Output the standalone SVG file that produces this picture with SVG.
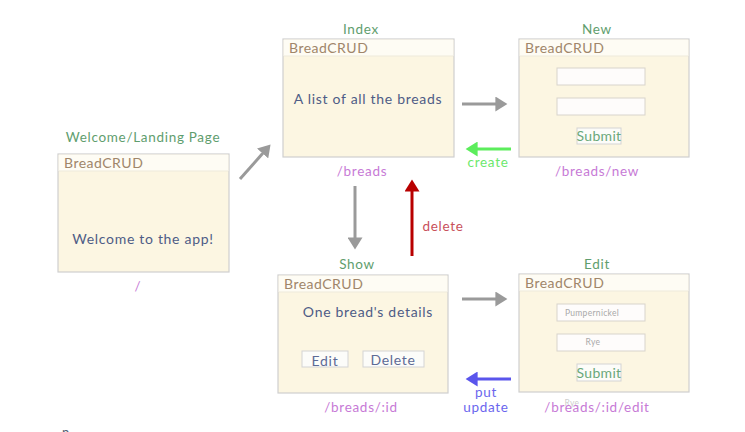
<svg xmlns="http://www.w3.org/2000/svg" width="745" height="432" viewBox="0 0 745 432">
<style>
text{font-family:Lato,"Noto Sans","DejaVu Sans",sans-serif;letter-spacing:0.7px}
.win{fill:#fcf6e2;stroke:#cfcfcf;stroke-width:1.2}
.hdr{fill:#fefcf4}
.sep{stroke:#eeeadb;stroke-width:1}
.brand{fill:#a0866a;font-size:14px;letter-spacing:0.5px}
.title{fill:#5f9e6e;font-size:13.5px;text-anchor:middle}
.body{fill:#4e5c86;font-size:14px;text-anchor:middle}
.route{fill:#c77ad6;font-size:13.5px;text-anchor:middle}
.input{fill:#fefcfb;stroke:#d8d4cc;stroke-width:1}
.btn{fill:#fcfcf9;stroke:#d4d4d4;stroke-width:1}
.sub{fill:#6aa879;font-size:14px;text-anchor:middle;letter-spacing:0.3px}
.ph{fill:#a9a9a9;font-size:8.5px;text-anchor:middle;letter-spacing:0.3px}
.bt{fill:#5d6a96;font-size:14px;text-anchor:middle}
.ln{stroke-width:3;fill:none}
</style>
<defs>
<marker id="hg" markerWidth="5" markerHeight="5" refX="0.2" refY="2.5" orient="auto" markerUnits="strokeWidth" viewBox="0 0 5 5"><path d="M0,0 L4,2.5 L0,5z" fill="#9a9a9a"/></marker>
<marker id="hgr" markerWidth="5" markerHeight="5" refX="0.2" refY="2.5" orient="auto" markerUnits="strokeWidth" viewBox="0 0 5 5"><path d="M0,0 L4,2.5 L0,5z" fill="#5ced5c"/></marker>
<marker id="hr" markerWidth="5" markerHeight="5" refX="0.2" refY="2.5" orient="auto" markerUnits="strokeWidth" viewBox="0 0 5 5"><path d="M0,0 L4,2.5 L0,5z" fill="#b80000"/></marker>
<marker id="hb" markerWidth="5" markerHeight="5" refX="0.2" refY="2.5" orient="auto" markerUnits="strokeWidth" viewBox="0 0 5 5"><path d="M0,0 L4,2.5 L0,5z" fill="#5a55ec"/></marker>
</defs>
<rect width="745" height="432" fill="#ffffff"/>

<g id="welcome">
<text class="title" x="143" y="142">Welcome/Landing Page</text>
<rect class="win" x="58" y="154" width="171" height="118"/>
<rect class="hdr" x="58.6" y="154.6" width="169.8" height="16.4"/>
<line class="sep" x1="59" y1="171" x2="228" y2="171"/>
<text class="brand" x="64" y="168">BreadCRUD</text>
<text class="body" x="143" y="244">Welcome to the app!</text>
<text class="route" x="138" y="291">/</text>
</g>

<g id="index">
<text class="title" x="361" y="34">Index</text>
<rect class="win" x="283" y="39" width="171" height="118"/>
<rect class="hdr" x="283.6" y="39.6" width="169.8" height="16.4"/>
<line class="sep" x1="284" y1="56" x2="453" y2="56"/>
<text class="brand" x="289" y="53">BreadCRUD</text>
<text class="body" x="368" y="104">A list of all the breads</text>
<text class="route" x="362" y="176">/breads</text>
</g>

<g id="new">
<text class="title" x="597" y="34">New</text>
<rect class="win" x="519" y="39" width="170" height="118"/>
<rect class="hdr" x="519.6" y="39.6" width="168.8" height="16.4"/>
<line class="sep" x1="520" y1="56" x2="688" y2="56"/>
<text class="brand" x="525" y="53">BreadCRUD</text>
<rect class="input" x="557" y="68" width="88" height="17"/>
<rect class="input" x="557" y="98" width="88" height="17"/>
<rect class="btn" x="577" y="128" width="44" height="16"/>
<text class="sub" x="599" y="141">Submit</text>
<text class="route" x="597" y="176">/breads/new</text>
</g>

<g id="show">
<text class="title" x="357" y="269">Show</text>
<rect class="win" x="278" y="275" width="170" height="118"/>
<rect class="hdr" x="278.6" y="275.6" width="168.8" height="16.4"/>
<line class="sep" x1="279" y1="292" x2="447" y2="292"/>
<text class="brand" x="284" y="289">BreadCRUD</text>
<text class="body" x="368" y="317">One bread's details</text>
<rect class="btn" x="302" y="351" width="46" height="16"/>
<text class="bt" x="325" y="366">Edit</text>
<rect class="btn" x="363" y="351" width="61" height="16"/>
<text class="bt" x="393" y="365">Delete</text>
<text class="route" x="361" y="412">/breads/:id</text>
</g>

<g id="edit">
<text class="title" x="597" y="269">Edit</text>
<rect class="win" x="519" y="274" width="170" height="118"/>
<rect class="hdr" x="519.6" y="274.6" width="168.8" height="16.4"/>
<line class="sep" x1="520" y1="291" x2="688" y2="291"/>
<text class="brand" x="525" y="288">BreadCRUD</text>
<rect class="input" x="557" y="304" width="88" height="17"/>
<text class="ph" x="592" y="316">Pumpernickel</text>
<rect class="input" x="557" y="334" width="88" height="17"/>
<text class="ph" x="593" y="345">Rye</text>
<rect class="btn" x="577" y="364" width="44" height="17"/>
<text class="sub" x="599" y="378">Submit</text>
<text class="ph" x="572" y="406" fill-opacity="0.6">Rye</text>
<text class="route" x="597" y="412">/breads/:id/edit</text>
</g>

<g id="connectors">
<line class="ln" x1="240" y1="179" x2="263" y2="153" stroke="#9a9a9a" marker-end="url(#hg)"/>
<line class="ln" x1="462" y1="104" x2="496" y2="104" stroke="#9a9a9a" marker-end="url(#hg)"/>
<line class="ln" x1="511" y1="149" x2="477" y2="149" stroke="#5ced5c" marker-end="url(#hgr)"/>
<text x="488" y="167" fill="#6ce86c" font-size="13.5" text-anchor="middle">create</text>
<line class="ln" x1="355" y1="186" x2="355" y2="238" stroke="#9a9a9a" marker-end="url(#hg)"/>
<line class="ln" x1="412" y1="256" x2="412" y2="191" stroke="#b80000" marker-end="url(#hr)"/>
<text x="443" y="231" fill="#c8505a" font-size="13.5" text-anchor="middle">delete</text>
<line class="ln" x1="462" y1="299" x2="496" y2="299" stroke="#9a9a9a" marker-end="url(#hg)"/>
<line class="ln" x1="511" y1="379" x2="477" y2="379" stroke="#5a55ec" marker-end="url(#hb)"/>
<text x="486" y="397" fill="#6b66ee" font-size="13.5" text-anchor="middle">put</text>
<text x="486" y="412" fill="#6b66ee" font-size="13.5" text-anchor="middle">update</text>
</g>
<text x="62" y="437" fill="#556070" font-size="13">n</text>
</svg>
